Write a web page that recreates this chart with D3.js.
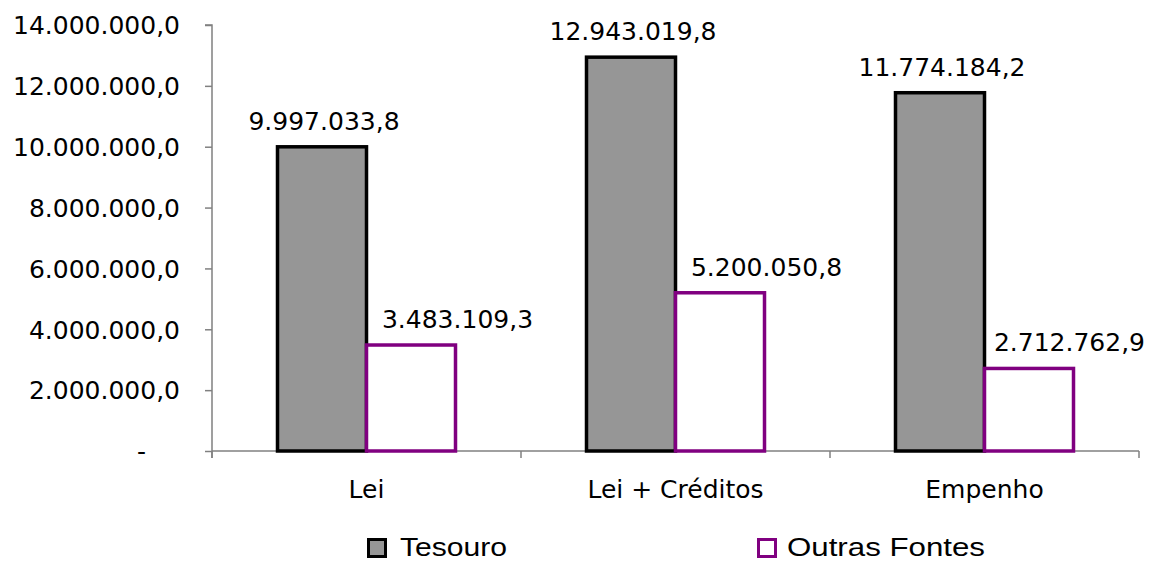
<!DOCTYPE html>
<html><head><meta charset="utf-8">
<script src="https://cdn.jsdelivr.net/npm/d3@7"></script>
<style>body{margin:0;background:#fff}svg{display:block}</style>
</head><body>
<script>
const categories = ["Lei", "Lei + Créditos", "Empenho"];
const seriesNames = ["Tesouro", "Outras Fontes"];
const tesouro = [9997033.8, 12943019.8, 11774184.2];
const outras = [3483109.3, 5200050.8, 2712762.9];
const yTicks = [0, 2000000, 4000000, 6000000, 8000000, 10000000, 12000000, 14000000];

(function () {
const W = 1149, H = 562;
const svg = d3.select("body").append("svg").attr("width", W).attr("height", H);
const pLeft = 212, pRight = 1139, pTop = 25, pBottom = 451;

const fmt = v => {
  const s = v.toFixed(1).split(".");
  return s[0].replace(/\B(?=(\d{3})+(?!\d))/g, ".") + "," + s[1];
};

const x = d3.scaleBand().domain(categories).range([pLeft, pRight]).paddingInner(0).paddingOuter(0);
const y = d3.scaleLinear().domain([0, 14000000]).range([pBottom, pTop]);
const barW = 89;

const seriesData = [
  {name: seriesNames[0], values: tesouro, fill: "#969696", stroke: "#000000", off: -1, labelShift: 0},
  {name: seriesNames[1], values: outras, fill: "#ffffff", stroke: "#800080", off: 0, labelShift: 0.5}
];

const font = "DejaVu Sans, Verdana, sans-serif";

// Y axis
const yAxis = d3.axisLeft(y).tickValues(yTicks).tickSize(7).tickFormat(d => d === 0 ? "-" : fmt(d));
const gy = svg.append("g").attr("transform", `translate(${pLeft},0)`).call(yAxis);
gy.select(".domain").attr("stroke", "#808080").attr("stroke-width", 1.5).attr("d", `M-7,${pTop}H0V${pBottom + 7}`);
gy.selectAll(".tick line").attr("stroke", "#808080").attr("stroke-width", 1.5);
gy.selectAll(".tick text").attr("font-family", font).attr("font-size", 25).attr("fill", "#000")
  .attr("x", -32).attr("dy", "0.35em")
  .filter(d => d === 0).attr("x", -66);

// X axis
const gx = svg.append("g").attr("transform", `translate(0,${pBottom})`);
gx.append("line").attr("x1", pLeft).attr("x2", pRight).attr("y1", 0).attr("y2", 0)
  .attr("stroke", "#808080").attr("stroke-width", 1.5);
const bounds = [pLeft].concat(categories.map(c => x(c) + x.bandwidth()));
gx.selectAll("line.tk").data(bounds).enter().append("line").attr("class", "tk")
  .attr("x1", d => d).attr("x2", d => d).attr("y1", 0).attr("y2", 7)
  .attr("stroke", "#808080").attr("stroke-width", 1.5);
gx.selectAll("text").data(categories).enter().append("text")
  .attr("x", d => x(d) + x.bandwidth() / 2).attr("y", 47)
  .attr("text-anchor", "middle").attr("font-family", font).attr("font-size", 25).text(d => d);

// Bars
seriesData.forEach(s => {
  const g = svg.append("g");
  g.selectAll("rect").data(categories).enter().append("rect")
    .attr("x", (c) => x(c) + x.bandwidth() / 2 + s.off * barW)
    .attr("y", (c, i) => y(s.values[i]))
    .attr("width", barW)
    .attr("height", (c, i) => pBottom - y(s.values[i]))
    .attr("fill", s.fill).attr("stroke", s.stroke).attr("stroke-width", 3.5);
  g.selectAll("text").data(categories).enter().append("text")
    .attr("y", (c, i) => y(s.values[i]) - 17)
    .attr("text-anchor", "middle").attr("font-family", font).attr("font-size", 25)
    .text((c, i) => fmt(s.values[i]))
    .attr("x", function (c) {
      const cx = x(c) + x.bandwidth() / 2 + s.off * barW + barW / 2 + s.labelShift * barW + 2;
      const w = this.getComputedTextLength();
      return Math.min(cx, W - 4 - w / 2);
    });
});

// Legend
const legend = svg.append("g");
const legX = [367, 757];
const legTextLen = [107, 198];
seriesData.forEach((s, i) => {
  legend.append("rect").attr("x", legX[i] + 1.5).attr("y", 539.5).attr("width", 17).attr("height", 17)
    .attr("fill", s.fill).attr("stroke", s.stroke).attr("stroke-width", 3);
  legend.append("text").attr("x", legX[i] + (i === 0 ? 33 : 30)).attr("y", 556)
    .attr("font-family", "Liberation Sans, Arial, sans-serif").attr("font-size", 26)
    .attr("textLength", legTextLen[i]).attr("lengthAdjust", "spacingAndGlyphs")
    .text(s.name);
});
})();
</script>
</body></html>
